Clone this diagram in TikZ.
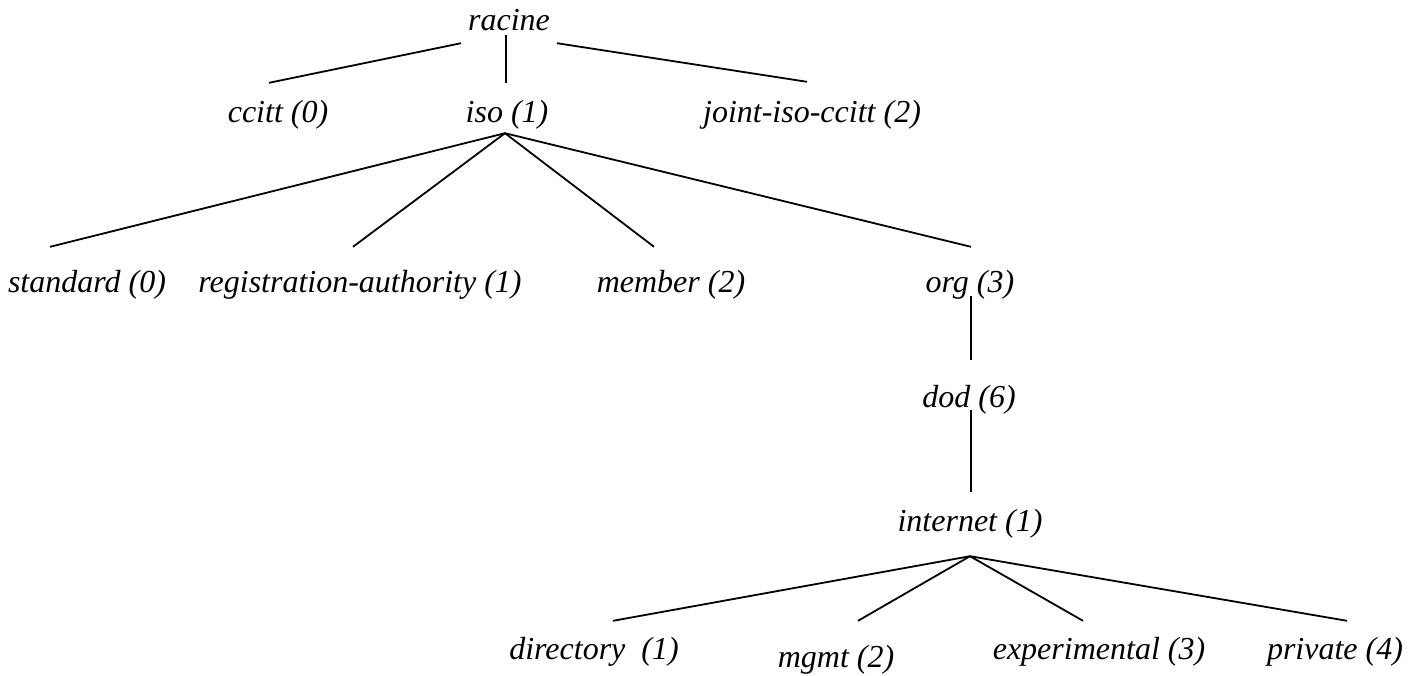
\documentclass[tikz,border=0pt]{standalone}
\usepackage{fontspec}
\setmainfont{Liberation Serif}
\usetikzlibrary{positioning}

\tikzset{
  oid/.style={font=\fontsize{32}{38}\selectfont\itshape, inner sep=0pt,
    text height=24pt, text depth=7pt, anchor=base},
  arc/.style={line width=1.8pt}
}

\begin{document}
\begin{tikzpicture}[x=1pt,y=-1pt]
  \useasboundingbox (0,0) rectangle (1419,675);
  % level 0 and 1
  \node[oid] (racine) at (509,30) {racine};
  \node[oid] (ccitt) at (278,122) {ccitt (0)};
  \node[oid] (iso) at (507,122) {iso (1)};
  \node[oid] (joint) at (812,122) {joint-iso-ccitt (2)};
  % under iso
  \node[oid] (standard) at (87,292) {standard (0)};
  \node[oid] (regauth) at (360,292) {registration-authority (1)};
  \node[oid] (member) at (671,292) {member (2)};
  \node[oid] (org) at (970,292) {org (3)};
  \node[oid] (dod) at (969,407) {dod (6)};
  \node[oid] (internet) at (970,531) {internet (1)};
  % under internet
  \node[oid] (directory) at (594,659) {directory~ (1)};
  \node[oid] (mgmt) at (836,667) {mgmt (2)};
  \node[oid] (experimental) at (1099,659) {experimental (3)};
  \node[oid] (private) at (1335,659) {private (4)};

  \draw[arc] ([shift={(-48pt,-6pt)}]racine.south) -- ([shift={(-9pt,15pt)}]ccitt.north);
  \draw[arc] ([shift={(-3pt,2pt)}]racine.south) -- ([shift={(-1pt,15pt)}]iso.north);
  \draw[arc] ([shift={(48pt,-6pt)}]racine.south) -- ([shift={(-5pt,16pt)}]joint.north);

  \draw[arc] ([shift={(-2pt,-4pt)}]iso.south) -- ([shift={(-37pt,21pt)}]standard.north);
  \draw[arc] ([shift={(-2pt,-4pt)}]iso.south) -- ([shift={(-7pt,21pt)}]regauth.north);
  \draw[arc] ([shift={(-2pt,-4pt)}]iso.south) -- ([shift={(-17pt,21pt)}]member.north);
  \draw[arc] ([shift={(-2pt,-4pt)}]iso.south) -- ([shift={(1pt,21pt)}]org.north);

  \draw[arc] ([shift={(1pt,3pt)}]org.south) -- ([shift={(2pt,23pt)}]dod.north);
  \draw[arc] ([shift={(2pt,4pt)}]dod.south) -- ([shift={(1pt,15pt)}]internet.north);

  \draw[arc] ([yshift=-18pt]internet.south) -- ([shift={(19pt,14pt)}]directory.north);
  \draw[arc] ([yshift=-18pt]internet.south) -- ([shift={(22pt,22pt)}]mgmt.north);
  \draw[arc] ([yshift=-18pt]internet.south) -- ([shift={(-16pt,14pt)}]experimental.north);
  \draw[arc] ([yshift=-18pt]internet.south) -- ([shift={(12pt,14pt)}]private.north);
\end{tikzpicture}
\end{document}
